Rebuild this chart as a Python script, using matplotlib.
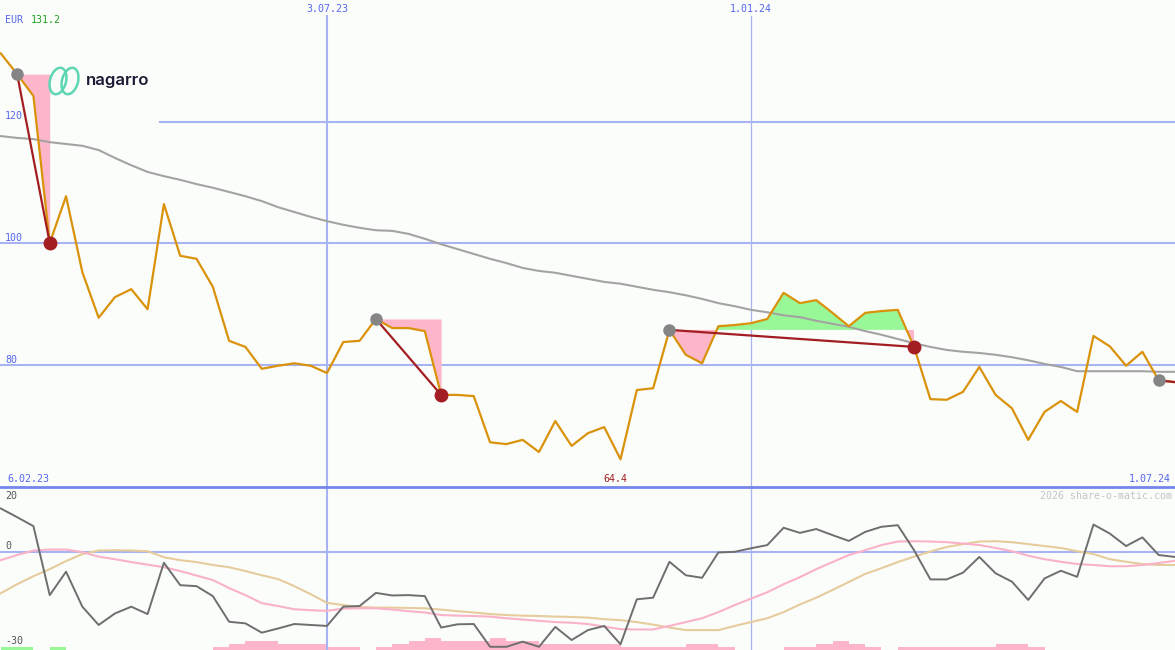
import pandas as pd
import numpy as np
import matplotlib
matplotlib.use('Agg')
import matplotlib.pyplot as plt
from matplotlib.patches import Ellipse
from matplotlib.lines import Line2D

# weekly closes (EUR), week starting 13.02.23
price = [131.2, 127.8, 124.2, 100.0, 107.7, 95.2, 87.7, 91.1, 92.4, 89.1,
         106.4, 97.9, 97.4, 92.8, 83.9, 82.9, 79.3, 79.8, 80.2, 79.8,
         78.6, 83.7, 83.9, 87.5, 86.0, 86.0, 85.5, 75.0, 75.0, 74.8,
         67.2, 66.9, 67.6, 65.6, 70.7, 66.6, 68.7, 69.7, 64.4, 75.8,
         76.1, 85.7, 81.6, 80.2, 86.3, 86.5, 86.8, 87.5, 91.8, 90.1,
         90.6, 88.5, 86.3, 88.5, 88.8, 89.0, 82.9, 74.3, 74.2, 75.5,
         79.6, 75.0, 72.8, 67.6, 72.2, 74.0, 72.2, 84.7, 83.0, 79.8,
         82.1, 77.4, 77.1]

# long moving average
avg = [117.6, 117.3, 117.1, 116.6, 116.3, 116.0, 115.3, 114.0, 112.8, 111.7,
       111.0, 110.4, 109.7, 109.1, 108.4, 107.7, 106.9, 105.9, 105.1, 104.3,
       103.6, 103.0, 102.5, 102.1, 102.0, 101.5, 100.7, 99.8, 99.0, 98.2,
       97.4, 96.7, 95.9, 95.4, 95.1, 94.6, 94.1, 93.6, 93.3, 92.8,
       92.3, 91.9, 91.4, 90.8, 90.1, 89.6, 89.0, 88.6, 88.1, 87.8,
       87.2, 86.7, 86.2, 85.5, 84.9, 84.2, 83.5, 82.9, 82.4, 82.1,
       81.9, 81.6, 81.2, 80.7, 80.1, 79.6, 78.9, 78.9, 78.9, 78.9,
       78.9, 78.8, 78.8]

# oscillator panel
osc = [13.5, 10.8, 8.0, -13.5, -6.2, -17.1, -22.8, -19.2, -17.1, -19.4,
       -3.4, -10.4, -10.7, -13.8, -21.8, -22.3, -25.2, -23.9, -22.5, -22.8,
       -23.1, -17.1, -16.9, -12.8, -13.6, -13.5, -13.8, -23.6, -22.6, -22.5,
       -29.6, -29.6, -28.0, -29.6, -23.4, -27.5, -24.4, -23.1, -28.8, -14.8,
       -14.3, -3.1, -7.3, -8.1, -0.2, 0.0, 1.1, 2.1, 7.5, 5.9,
       7.1, 5.2, 3.4, 6.2, 7.8, 8.3, 0.5, -8.6, -8.6, -6.5,
       -1.6, -6.7, -9.3, -15.0, -8.3, -5.9, -7.8, 8.5, 5.7, 1.8,
       4.5, -1.0, -1.6]
osc_pink = [-2.6, -1.0, 0.4, 0.7, 0.7, -0.1, -1.5, -2.3, -3.2, -4.0,
            -4.8, -6.0, -7.4, -8.8, -11.3, -13.5, -16.0, -16.9, -17.9, -18.2,
            -18.4, -17.7, -17.6, -17.6, -18.0, -18.5, -18.9, -19.7, -19.9, -20.0,
            -20.2, -20.7, -21.1, -21.5, -21.9, -22.1, -22.5, -23.3, -24.1, -24.2,
            -24.2, -23.1, -21.9, -20.7, -18.8, -16.6, -14.6, -12.6, -10.1, -7.9,
            -5.4, -3.2, -1.0, 0.5, 2.1, 3.2, 3.3, 3.2, 3.0, 2.6,
            2.1, 1.2, 0.2, -1.2, -2.3, -3.1, -3.8, -4.1, -4.5, -4.5,
            -4.1, -3.5, -2.8]
osc_tan = [-12.9, -10.1, -7.6, -5.4, -2.9, -0.7, 0.4, 0.5, 0.4, 0.2,
           -1.7, -2.6, -3.2, -4.1, -4.8, -6.0, -7.3, -8.5, -10.7, -13.2,
           -15.9, -16.6, -17.2, -17.4, -17.4, -17.5, -17.6, -18.0, -18.5, -18.9,
           -19.4, -19.7, -19.9, -20.0, -20.2, -20.3, -20.5, -21.0, -21.3, -21.9,
           -22.7, -23.6, -24.4, -24.4, -24.4, -23.1, -21.9, -20.7, -18.8, -16.4,
           -14.3, -11.9, -9.4, -6.9, -5.1, -3.2, -1.5, 0.1, 1.5, 2.4,
           3.2, 3.3, 3.0, 2.4, 1.8, 1.2, 0.2, -0.7, -2.3, -3.1,
           -3.8, -4.1, -4.1]
# bottom strip: >0 green, <0 pink, size in steps
strip = [1, 1, 0, 1, 0, 0, 0, 0, 0, 0,
         0, 0, 0, -1, -2, -3, -3, -2, -2, -2,
         -1, -1, 0, -1, -2, -3, -4, -3, -3, -3,
         -4, -3, -3, -2, -2, -2, -2, -2, -1, -1,
         -1, -1, -2, -2, -1, 0, 0, 0, -1, -1,
         -2, -3, -2, -1, 0, -1, -1, -1, -1, -1,
         -1, -2, -2, -1, 0, 0, 0, 0, 0, 0,
         0, 0, 0]

# trend signals: (start week, end week)
signals = [(1, 3), (23, 27), (41, 56), (71, 72)]

dates = pd.date_range('2023-02-13', periods=len(price), freq='7D')
price = np.array(price)

BG = '#fbfdfb'
GRID = '#a7b3f2'
BLUE_TXT = '#5566ee'
MONO = 'DejaVu Sans Mono'

fig = plt.figure(figsize=(11.75, 6.5), dpi=100, facecolor=BG)
ax = fig.add_axes([0, 163 / 650, 1, 487 / 650], facecolor=BG)
ax2 = fig.add_axes([0, 0, 1, 163 / 650], facecolor=BG)

x0 = pd.Timestamp('2023-02-06') + pd.Timedelta(days=0.95 * 7)
x1 = pd.Timestamp('2024-07-01')
for a in (ax, ax2):
    a.set_xlim(x0, x1)
    a.set_xticks([])
    a.set_yticks([])
    for s in a.spines.values():
        s.set_visible(False)
ax.set_ylim(59.84, 140.0)
ax2.set_ylim(-30.6, 20.2)

# grid
ax.axhline(120, xmin=160 / 1175, color=GRID, lw=1.5, zorder=1)
ax.axhline(100, color=GRID, lw=1.5, zorder=1)
ax.axhline(80, color=GRID, lw=1.5, zorder=1)
ax2.axhline(0, color=GRID, lw=1.5, zorder=1)
for d, lw in [('2023-07-03', 1.5), ('2024-01-01', 0.9)]:
    ax.axvline(pd.Timestamp(d), ymax=(487 - 16) / 487, color=GRID, lw=lw, zorder=1)
    ax2.axvline(pd.Timestamp(d), color=GRID, lw=lw, zorder=1)
    ax.text(pd.Timestamp(d), 1 - 9 / 487, pd.Timestamp(d).strftime('%-d.%m.%y'),
            transform=ax.get_xaxis_transform(), ha='center', va='center',
            fontsize=7.2, family=MONO, color=BLUE_TXT)

# signal fills
for s, e in signals:
    lvl = price[s]
    seg = slice(s, e + 1)
    ax.fill_between(dates[seg], lvl, price[seg], where=price[seg] <= lvl,
                    interpolate=True, color='#fdb6c9', lw=0, zorder=2)
    ax.fill_between(dates[seg], lvl, price[seg], where=price[seg] >= lvl,
                    interpolate=True, color='#98f898', lw=0, zorder=2)

ax.plot(dates, avg, color='#a3a3a3', lw=1.5, zorder=3)
ax.plot(dates, price, color='#d9920a', lw=1.6, zorder=4)

for s, e in signals:
    ax.plot([dates[s], dates[e]], [price[s], price[e]], color='#a31e22', lw=1.6, zorder=5)
    ax.plot(dates[s], price[s], 'o', ms=8, color='#858585', zorder=6)
    if e != len(price) - 1:
        ax.plot(dates[e], price[e], 'o', ms=9, color='#a31e22', zorder=6)

# lower panel
ax3 = ax2.twinx()
ax3.set_ylim(0, 163 / 3)
ax3.set_yticks([])
for s in ax3.spines.values():
    s.set_visible(False)
strip_cols = ['#98f898' if v > 0 else '#fdb6c9' for v in strip]
ax3.bar(dates, [abs(v) for v in strip], width=7, align='edge', color=strip_cols, lw=0, zorder=1)
ax2.set_zorder(ax3.get_zorder() + 1)
ax2.patch.set_visible(False)
ax3.patch.set_facecolor(BG)

ax2.plot(dates, osc_tan, color='#e6cc9c', lw=1.5, zorder=3)
ax2.plot(dates, osc_pink, color='#f9b2c8', lw=1.5, zorder=3)
ax2.plot(dates, osc, color='#6e6e6e', lw=1.4, zorder=4)

# divider between panels
fig.add_artist(Line2D([0, 1], [163 / 650, 163 / 650], color='#7585ea', lw=2))


def fx(x):
    return x / 1175


def fy(y):
    return 1 - y / 650


txt = dict(fontsize=7.2, family=MONO, va='center')
fig.text(fx(5), fy(20), 'EUR', color=BLUE_TXT, **txt)
fig.text(fx(31), fy(20), '%.1f' % price.max(), color='#22a022', **txt)
fig.text(fx(5), fy(116), '120', color=BLUE_TXT, **txt)
fig.text(fx(5), fy(238), '100', color=BLUE_TXT, **txt)
fig.text(fx(5), fy(360), '80', color=BLUE_TXT, **txt)
fig.text(fx(7), fy(479), '6.02.23', color=BLUE_TXT, **txt)
fig.text(fx(1171), fy(479), '1.07.24', color=BLUE_TXT, ha='right', **txt)
fig.text(fx(615), fy(479), '%.1f' % price.min(), color='#a31e22', ha='center', **txt)
fig.text(fx(5), fy(496), '20', color='#555555', **txt)
fig.text(fx(5), fy(546), '0', color='#555555', **txt)
fig.text(fx(5), fy(641), '-30', color='#555555', **txt)
fig.text(fx(1172), fy(496), '2026 share-o-matic.com', color='#c3c3c3', ha='right', **txt)

# logo
for cx in (58, 70):
    fig.add_artist(Ellipse((cx / 100, (650 - 81) / 100), 0.16, 0.27, angle=-15,
                           transform=fig.dpi_scale_trans, fill=False,
                           edgecolor='#5ed6b3', lw=1.8))
fig.text(fx(86), fy(81), 'nagarro', fontsize=12, family='Inter', weight='semibold',
         color='#1b1b35', va='center')

fig.savefig('out.png', dpi=100, facecolor=BG)
